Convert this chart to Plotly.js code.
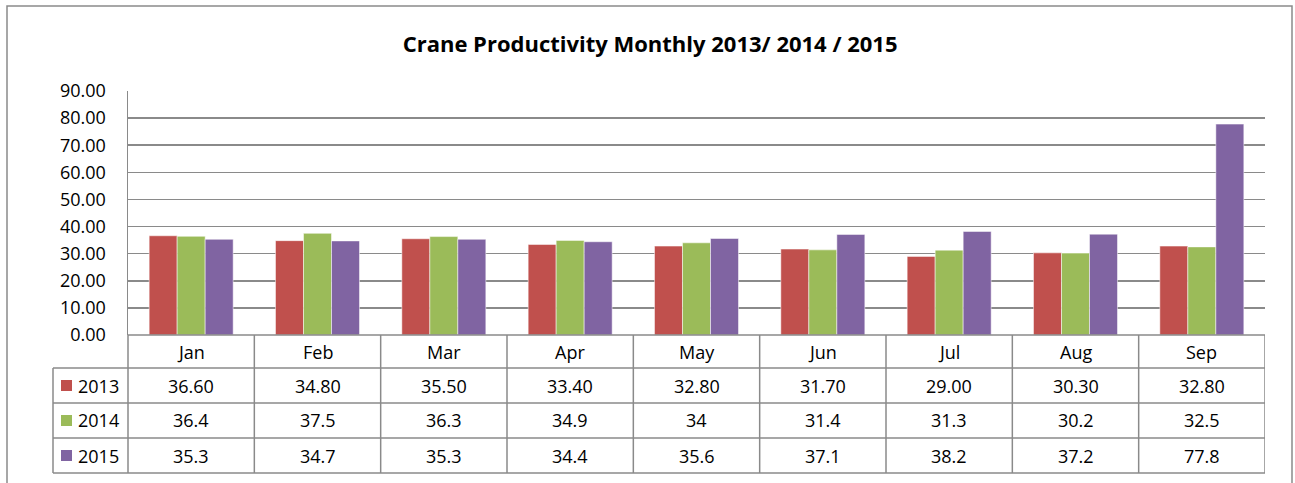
<!DOCTYPE html>
<html>
<head>
<meta charset="utf-8">
<script src="https://cdn.plot.ly/plotly-3.0.1.min.js"></script>
<style>
  html, body { margin: 0; padding: 0; background: #fff; }
  #chart { width: 1295px; height: 483px; }
</style>
</head>
<body>
<div id="chart"></div>
<script>
const months = ["Jan", "Feb", "Mar", "Apr", "May", "Jun", "Jul", "Aug", "Sep"];
const years = ["2013", "2014", "2015"];
const v2013 = [36.60, 34.80, 35.50, 33.40, 32.80, 31.70, 29.00, 30.30, 32.80];
const v2014 = [36.4, 37.5, 36.3, 34.9, 34, 31.4, 31.3, 30.2, 32.5];
const v2015 = [35.3, 34.7, 35.3, 34.4, 35.6, 37.1, 38.2, 37.2, 77.8];
const colors = ["#C0504D", "#9BBB59", "#8064A2"];

const series = [v2013, v2014, v2015];
const decimals = [2, null, null];

// plot area in pixels
const L = 128, R = 1265, T = 91, B = 335;
const pw = R - L, ph = B - T;
const px = p => (p - L) / pw;
const py = p => (B - p) / ph;

const rowEdges = [335, 368, 403, 438, 473];
const legLeft = 53;
const font = "Open Sans, Noto Sans, sans-serif";
const gridCol = "#8a8a8a";

const traces = series.map((vals, i) => ({
  type: "bar",
  name: years[i],
  x: months,
  y: vals,
  marker: { color: colors[i], line: { color: "rgba(255,255,255,0.5)", width: 1 } },
  hoverinfo: "x+y+name"
}));

const shapes = [];
const annotations = [];
const line = (x0, y0, x1, y1, xref) => shapes.push({
  type: "line", xref: xref || "paper", yref: "paper",
  x0, y0, x1, y1, line: { color: gridCol, width: 1.5 }
});

// table horizontal lines
line(px(L), py(rowEdges[0]), px(R), py(rowEdges[0]));
for (let r = 1; r < rowEdges.length; r++) line(px(legLeft), py(rowEdges[r]), px(R), py(rowEdges[r]));
// table vertical lines
line(px(legLeft), py(rowEdges[1]), px(legLeft), py(rowEdges[4]));
line(px(L), py(rowEdges[0]), px(L), py(rowEdges[4]));
months.forEach((m, i) => {
  shapes.push({
    type: "line", xref: "x", yref: "paper",
    x0: i + 0.5, x1: i + 0.5, y0: py(rowEdges[0]), y1: py(rowEdges[4]),
    line: { color: gridCol, width: 1.5 }
  });
});

// outer chart border
shapes.push({
  type: "rect", xref: "paper", yref: "paper",
  x0: px(7), x1: px(1292), y0: py(495), y1: py(6),
  line: { color: gridCol, width: 1.5 }, fillcolor: "rgba(0,0,0,0)"
});

const txtFont = { family: font, size: 18, color: "#000" };
const mid = r => py((rowEdges[r] + rowEdges[r + 1]) / 2);

// category header row
months.forEach(m => annotations.push({
  xref: "x", yref: "paper", x: m, y: mid(0), text: m,
  showarrow: false, font: txtFont, xanchor: "center", yanchor: "middle"
}));

// value rows
series.forEach((vals, s) => {
  vals.forEach((v, i) => annotations.push({
    xref: "x", yref: "paper", x: months[i], y: mid(s + 1),
    text: decimals[s] ? v.toFixed(decimals[s]) : String(v),
    showarrow: false, font: txtFont, xanchor: "center", yanchor: "middle"
  }));
  // legend key
  const cy = (rowEdges[s + 1] + rowEdges[s + 2]) / 2;
  shapes.push({
    type: "rect", xref: "paper", yref: "paper",
    x0: px(61), x1: px(72), y0: py(cy + 5.5), y1: py(cy - 5.5),
    line: { width: 0 }, fillcolor: colors[s]
  });
  annotations.push({
    xref: "paper", yref: "paper", x: px(76), y: mid(s + 1), text: years[s],
    showarrow: false, font: txtFont, xanchor: "left", yanchor: "middle"
  });
});

const layout = {
  width: 1295, height: 483,
  margin: { l: L, r: 1295 - R, t: T, b: 483 - B, pad: 0 },
  paper_bgcolor: "#fff", plot_bgcolor: "#fff",
  title: {
    text: "<b>Crane Productivity Monthly 2013/ 2014 / 2015</b>",
    font: { family: font, size: 22, color: "#000" },
    x: 0.502, xanchor: "center", y: 1 - 44 / 483, yanchor: "middle"
  },
  showlegend: false,
  barmode: "group",
  bargap: 0.335,
  bargroupgap: 0,
  xaxis: {
    type: "category", range: [-0.5, 8.5], showticklabels: false,
    showgrid: false, zeroline: false, showline: false, ticks: ""
  },
  yaxis: {
    range: [0, 90], dtick: 10, tickformat: ".2f",
    showgrid: true, gridcolor: gridCol, gridwidth: 1.5,
    zeroline: false, showline: true, linecolor: gridCol, linewidth: 1.5,
    ticks: "outside", ticklen: 17, tickcolor: "rgba(0,0,0,0)",
    tickfont: { family: font, size: 18, color: "#000" }
  },
  shapes, annotations
};

Plotly.newPlot("chart", traces, layout, { displayModeBar: false, staticPlot: true });
</script>
</body>
</html>
